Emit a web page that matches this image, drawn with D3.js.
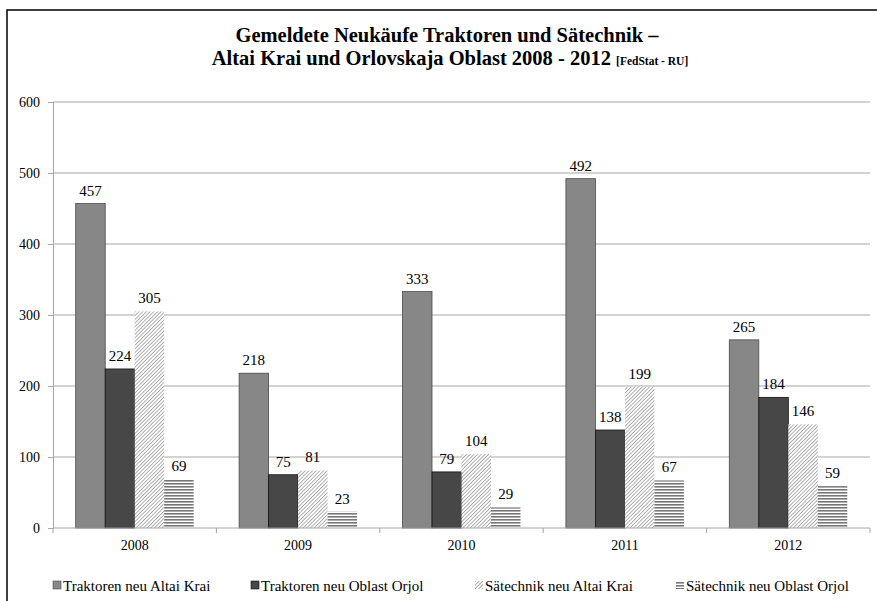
<!DOCTYPE html>
<html><head><meta charset="utf-8">
<script src="https://cdn.jsdelivr.net/npm/d3@7"></script>
<style>body{margin:0;background:#fff}svg{display:block}</style>
</head><body><svg id="c" width="877" height="601"></svg>
<script>
const years = ["2008","2009","2010","2011","2012"];
const seriesNames = ["Traktoren neu Altai Krai","Traktoren neu Oblast Orjol","Sätechnik neu Altai Krai","Sätechnik neu Oblast Orjol"];
const traktorenAltai = [457,218,333,492,265];
const traktorenOrjol = [224,75,79,138,184];
const saetechnikAltai = [305,81,104,199,146];
const saetechnikOrjol = [69,23,29,67,59];
const yTicks = [0,100,200,300,400,500,600];
const seriesValues = [traktorenAltai,traktorenOrjol,saetechnikAltai,saetechnikOrjol];

const FONT = "'Liberation Serif', Tinos, 'Times New Roman', 'DejaVu Serif', serif";
const svg = d3.select("#c").attr("font-family",FONT);
const defs = svg.append("defs");
const diag = defs.append("pattern").attr("id","diag").attr("patternUnits","userSpaceOnUse").attr("width",2.6).attr("height",3).attr("patternTransform","rotate(45)");
diag.append("rect").attr("width",2.6).attr("height",3).attr("fill","#fff");
diag.append("line").attr("x1",0).attr("y1",0).attr("x2",0).attr("y2",3).attr("stroke","#7d7d7d").attr("stroke-width",1.2);
const hor = defs.append("pattern").attr("id","hor").attr("patternUnits","userSpaceOnUse").attr("width",4).attr("height",3);
hor.append("rect").attr("width",4).attr("height",3).attr("fill","#fff");
hor.append("rect").attr("y",0).attr("width",4).attr("height",1.6).attr("fill","#777");

const fills = ["#878787","#474747","url(#diag)","url(#hor)"];
const strokes = ["#4a4a4a","#111","none","none"];

svg.append("rect").attr("x",7).attr("y",10).attr("width",1000).attr("height",1000).attr("fill","none").attr("stroke","#000").attr("stroke-width",1.5);

const x0 = d3.scaleBand().domain(years).range([53,870]).padding(0);
const x1 = d3.scaleBand().domain(d3.range(4)).range([0,x0.bandwidth()]).paddingInner(0).paddingOuter(0.77);
const y = d3.scaleLinear().domain([0,600]).range([528,102]);

svg.append("g").selectAll("line").data(yTicks.slice(1)).join("line")
  .attr("x1",53).attr("x2",870).attr("y1",d=>y(d)).attr("y2",d=>y(d))
  .attr("stroke","#a6a6a6").attr("stroke-width",1);

const ya = svg.append("g").attr("transform","translate(53,0)")
  .call(d3.axisLeft(y).tickValues(yTicks).tickSize(5).tickPadding(8));
ya.attr("font-family",FONT);
ya.select(".domain").attr("stroke","#a6a6a6");
ya.selectAll(".tick line").attr("stroke","#a6a6a6");
ya.selectAll("text").attr("font-size",14).attr("fill","#000");

const groups = svg.append("g").selectAll("g").data(years).join("g")
  .attr("transform",d=>`translate(${x0(d)},0)`);
groups.each(function(yr,i){
  const g = d3.select(this);
  seriesValues.forEach((vals,s)=>{
    g.append("rect").attr("x",x1(s)).attr("width",x1.bandwidth())
      .attr("y",y(vals[i])).attr("height",y(0)-y(vals[i]))
      .attr("fill",fills[s]).attr("stroke",strokes[s]).attr("stroke-width",0.8);
    g.append("text").attr("x",x1(s)+x1.bandwidth()/2).attr("y",y(vals[i])-8)
      .attr("text-anchor","middle").attr("font-size",15).text(vals[i]);
  });
});

const xa = svg.append("g").attr("transform","translate(0,528)");
xa.append("line").attr("x1",53).attr("x2",870).attr("stroke","#a6a6a6");
xa.selectAll("line.t").data(d3.range(years.length+1)).join("line").attr("class","t")
  .attr("x1",i=>53+i*x0.step()).attr("x2",i=>53+i*x0.step()).attr("y1",0).attr("y2",5).attr("stroke","#a6a6a6");
xa.selectAll("text").data(years).join("text")
  .attr("x",d=>x0(d)+x0.bandwidth()/2).attr("y",22).attr("text-anchor","middle").attr("font-size",14).text(d=>d);

const t = svg.append("text").attr("text-anchor","middle").attr("font-weight","bold");
t.append("tspan").attr("x",447).attr("y",42).attr("font-size",20.5).text("Gemeldete Neukäufe Traktoren  und Sätechnik –");
const t2 = svg.append("text").attr("x",450).attr("y",65).attr("text-anchor","middle").attr("font-weight","bold");
t2.append("tspan").attr("font-size",20.5).text("Altai Krai und Orlovskaja  Oblast 2008 - 2012 ");
t2.append("tspan").attr("font-size",11.5).text("[FedStat - RU]");

const legX = [53,251,475,676];
const lg = svg.append("g").selectAll("g").data(seriesNames).join("g")
  .attr("transform",(d,i)=>`translate(${legX[i]},0)`);
lg.append("rect").attr("x",0).attr("y",581).attr("width",8).attr("height",8)
  .attr("fill",(d,i)=>fills[i]).attr("stroke",(d,i)=>strokes[i]).attr("stroke-width",0.6);
lg.append("text").attr("x",10).attr("y",591).attr("font-size",15).text(d=>d);
</script></body></html>
